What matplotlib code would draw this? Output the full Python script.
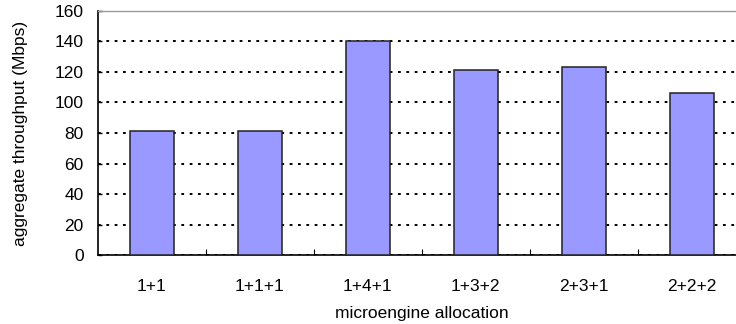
import numpy as np
import matplotlib.pyplot as plt

# Data
categories = ["1+1", "1+1+1", "1+4+1", "1+3+2", "2+3+1", "2+2+2"]
throughput = [81, 81, 140, 121, 123, 106]

plt.rcParams['font.family'] = ['Liberation Sans', 'DejaVu Sans']
plt.rcParams['lines.scale_dashes'] = False

fig = plt.figure(figsize=(7.36, 3.24), dpi=100)
# plot area runs past the right edge of the picture (clipped in the original)
ax = fig.add_axes([97.7 / 736, 68.7 / 324, 648 / 736, 244.6 / 324])

x = np.arange(len(categories))
ax.bar(x, throughput, width=0.41, color='#9999FF', edgecolor='#222222',
       linewidth=1.1, zorder=3)

ax.set_xlim(-0.5, len(categories) - 0.5)
ax.set_ylim(0, 160)
ax.set_yticks(np.arange(0, 161, 20))

# dotted grid
ax.yaxis.grid(True, color='black', linestyle=(0, (2, 4)), linewidth=1.4, zorder=1)
ax.set_axisbelow(True)

ax.set_xticks(x)
ax.set_xticklabels(categories)
ax.set_xticks(np.arange(0.5, len(categories) - 0.5, 1), minor=True)
ax.tick_params(axis='x', which='major', length=0, pad=17, labelsize=12.5)
ax.tick_params(axis='x', which='minor', direction='in', length=4, width=0.8)
ax.tick_params(axis='y', direction='in', length=3, width=1.0, pad=10, labelsize=12.5)

for side in ['left', 'bottom']:
    ax.spines[side].set_color('black')
    ax.spines[side].set_linewidth(1.2)
ax.spines['top'].set_color('#999999')
ax.spines['top'].set_linewidth(1.0)
ax.spines['right'].set_visible(False)

ax.set_xlabel('microengine allocation', fontsize=12.5, labelpad=9)
ax.set_ylabel('aggregate throughput (Mbps)', fontsize=12.5, labelpad=19)

fig.savefig('out.png', dpi=100)
